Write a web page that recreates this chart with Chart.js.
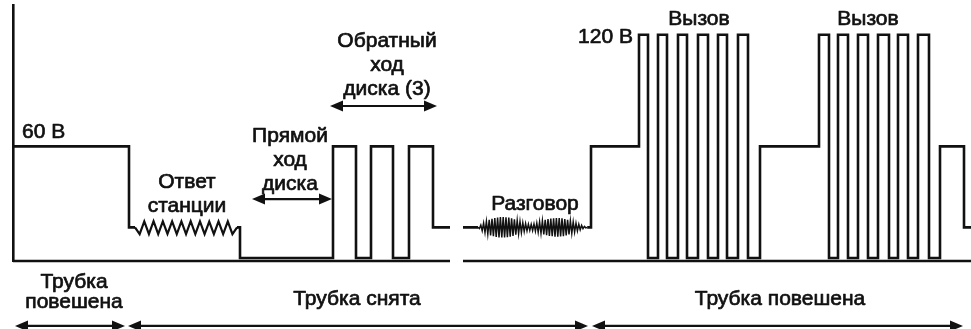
<!DOCTYPE html>
<html lang="ru">
<head>
<meta charset="utf-8">
<title>Напряжение на абонентской линии</title>
<script src="https://cdn.jsdelivr.net/npm/chart.js@4/dist/chart.umd.min.js"></script>
<style>
    html, body { margin: 0; padding: 0; background: #fff; }
    canvas { display: block; }
</style>
</head>
<body>
<canvas id="lineChart" width="971" height="329"></canvas>
<script>
// time in arbitrary units, line voltage in volts
const TIME_END = 95.8;
const Y_MIN = -1.6;
const Y_MAX = 136;
const OFF_HOOK_LEVEL = 16.5;

// time axis, broken between the two parts of the diagram
const groundT = [0, 43.7, 43.7, 45.0, TIME_END];
const groundV = [Y_MIN, Y_MIN, null, Y_MIN, Y_MIN];

// stepped trace: time of each edge and the level the line steps to
const pickupT = [0, 11.6, 12.2, 12.2, 22.4, 22.7, 32.0, 34.3, 35.8, 38.0, 39.6, 42.0, 43.7];
const pickupV = [60, 16.5, 16.5, null, 16.5, 0, 60, 0, 60, 0, 60, 16.5, 16.5];

const ringT = [45.0, 46.5, 46.5, 57.42, 57.8, 62.6,
    63.5, 64.5, 65.4, 66.5, 67.4, 68.5, 69.5, 70.5, 71.4, 72.5, 73.5, 74.7,
    80.6, 81.6, 82.5, 83.5, 84.5, 85.5, 86.5, 87.6, 88.5, 89.5, 90.5, 91.6, 92.7,
    95.1, TIME_END];
const ringV = [16.5, 16.5, null, 16.5, 60, 120,
    0, 120, 0, 120, 0, 120, 0, 120, 0, 120, 0, 60,
    120, 0, 120, 0, 120, 0, 120, 0, 120, 0, 120, 0, 60,
    16.5, 16.5];

// dial tone, swing around the off-hook level
const dialToneStart = 12.2;
const dialToneStep = 0.464;
const dialTone = [0, -3.6, 3.2, -3.6, 3.3, -3.6, 3.2, -3.5, 3.2, -3.6, 3.2, -3.6, 3.3, -3.6, 3.2, -3.6, 3.1, -3.6, 3.2, -3.6, 3.2, -3.6, 0];

// conversation, swing around the off-hook level
const speechStart = 46.5;
const speechStep = 0.14;
const speech = [
    0, -0.6, 1.2, -1.8, 2.3, -2.8, 3.2, -3.6, 4.0, -4.3,
    4.6, -4.8, 5.0, -5.2, 5.3, -5.4, 5.5, -5.5, 5.5, -5.5,
    5.4, -5.3, 5.2, -5.0, 4.8, -4.6, 4.3, -4.0, 3.7, -3.4,
    3.1, -2.8, 2.5, -2.2, 2.0, -1.8, 1.7, -1.6, 1.6, -1.7,
    1.8, -2.0, 2.3, -2.6, 2.9, -3.2, 3.5, -3.8, 4.0, -4.2,
    4.4, -4.6, 4.7, -4.8, 4.9, -5.0, 5.0, -5.0, 5.0, -4.9,
    4.8, -4.7, 4.5, -4.3, 4.1, -3.8, 3.5, -3.2, 2.9, -2.6,
    2.2, -1.9, 1.6, -1.3, 1.0, -0.7, 0.5, -0.3, 0
];

const INK = '#111';
const FONT = '21px "Liberation Sans", Arial, sans-serif';

function toPoints(ts, vs) {
    return ts.map((t, i) => ({ x: t, y: vs[i] }));
}

function wavePoints(start, step, offsets) {
    return offsets.map((d, i) => ({ x: start + i * step, y: OFF_HOOK_LEVEL + d }));
}

function trace(label, data, width, stepped) {
    return {
        label,
        data,
        stepped,
        borderColor: INK,
        borderWidth: width,
        borderJoinStyle: 'miter',
        borderCapStyle: 'butt',
        pointRadius: 0,
        spanGaps: false,
        clip: false
    };
}

function arrowHead(ctx, x, y, dir) {
    ctx.beginPath();
    ctx.moveTo(x, y);
    ctx.lineTo(x - dir * 13, y - 5.5);
    ctx.lineTo(x - dir * 13, y + 5.5);
    ctx.closePath();
    ctx.fill();
}

// captions and double arrows, placed in data coordinates
const annotations = {
    id: 'annotations',
    afterDatasetsDraw(chart, args, opts) {
        const { ctx, scales: { x, y } } = chart;
        ctx.save();
        ctx.fillStyle = INK;
        ctx.strokeStyle = INK;
        ctx.font = FONT;
        ctx.textBaseline = 'alphabetic';
        ctx.lineWidth = 0.7;
        ctx.lineJoin = 'round';
        for (const note of opts.notes) {
            ctx.textAlign = note.align || 'center';
            const px = x.getPixelForValue(note.t);
            const py = y.getPixelForValue(note.v);
            const step = note.lineHeight || 24;
            note.lines.forEach((line, i) => {
                ctx.fillText(line, px, py + i * step);
                ctx.strokeText(line, px, py + i * step);
            });
        }
        ctx.lineWidth = 2.2;
        for (const a of opts.arrows) {
            const x1 = x.getPixelForValue(a.from);
            const x2 = x.getPixelForValue(a.to);
            const py = y.getPixelForValue(a.v);
            ctx.beginPath();
            ctx.moveTo(x1 + 8, py);
            ctx.lineTo(x2 - 8, py);
            ctx.stroke();
            arrowHead(ctx, x1, py, -1);
            arrowHead(ctx, x2, py, 1);
        }
        ctx.restore();
    }
};

new Chart(document.getElementById('lineChart'), {
    type: 'line',
    data: {
        datasets: [
            trace('Ось времени', toPoints(groundT, groundV), 2.5, false),
            trace('Трубка снята', toPoints(pickupT, pickupV), 2.6, true),
            trace('Ответ станции', wavePoints(dialToneStart, dialToneStep, dialTone), 2.2, false),
            trace('Трубка повешена', toPoints(ringT, ringV), 2.6, true),
            trace('Разговор', wavePoints(speechStart, speechStep, speech), 1.5, false)
        ]
    },
    options: {
        responsive: false,
        animation: false,
        events: [],
        layout: { padding: { left: 13, right: 0, top: 5, bottom: 68 } },
        scales: {
            x: { type: 'linear', display: false, min: 0, max: TIME_END },
            y: {
                type: 'linear',
                min: Y_MIN,
                max: Y_MAX,
                grid: { display: false, drawTicks: false },
                ticks: { display: false },
                border: { display: true, color: INK, width: 2.6 }
            }
        },
        plugins: {
            legend: { display: false },
            tooltip: { enabled: false },
            annotations: {
                notes: [
                    { lines: ['60 В'], t: 0.9, v: 64.5, align: 'left' },
                    { lines: ['Ответ', 'станции'], t: 17.4, v: 37.6 },
                    { lines: ['Прямой', 'ход', 'диска'], t: 27.7, v: 62.4 },
                    { lines: ['Обратный', 'ход', 'диска (3)'], t: 37.4, v: 113.4 },
                    { lines: ['Разговор'], t: 52.2, v: 25.8 },
                    { lines: ['120 В'], t: 62.0, v: 115.6, align: 'right' },
                    { lines: ['Вызов'], t: 68.6, v: 125.2 },
                    { lines: ['Вызов'], t: 85.5, v: 125.2 },
                    { lines: ['Трубка', 'повешена'], t: 6.1, v: -16.1, lineHeight: 20 },
                    { lines: ['Трубка снята'], t: 34.4, v: -25.3 },
                    { lines: ['Трубка повешена'], t: 76.7, v: -25.3 }
                ],
                arrows: [
                    { from: 23.9, to: 31.9, v: 31.7 },
                    { from: 31.7, to: 42.4, v: 81.7 },
                    { from: 0.2, to: 11.2, v: -36.5 },
                    { from: 11.5, to: 57.5, v: -36.5 },
                    { from: 57.9, to: 95.0, v: -36.5 }
                ]
            }
        }
    },
    plugins: [annotations]
});
</script>
</body>
</html>
